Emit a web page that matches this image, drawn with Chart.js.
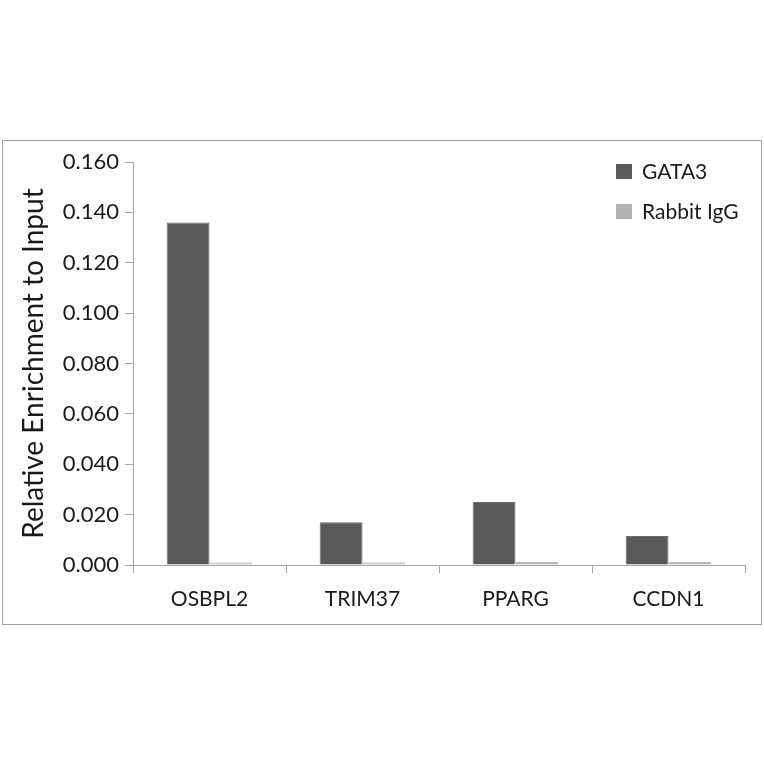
<!DOCTYPE html>
<html>
<head>
<meta charset="utf-8">
<script src="https://cdn.jsdelivr.net/npm/chart.js@4"></script>
<style>
  body { margin: 0; background: #fff; }
  #frame { position: absolute; left: 2px; top: 140px; width: 758px; height: 483px; border: 1px solid #a0a0a0; }
</style>
</head>
<body>
<div id="frame"><canvas id="grafico" width="758" height="483"></canvas></div>
<script>
var categories = ['OSBPL2', 'TRIM37', 'PPARG', 'CCDN1'];
var gata3 = [0.136, 0.017, 0.025, 0.0115];
var rabbitIgG = [0.001, 0.001, 0.0012, 0.0012];
var seriesNames = ['GATA3', 'Rabbit IgG'];
var seriesColors = ['#595959', '#b2b2b2'];

var fontFamily = 'Lato, "Open Sans", sans-serif';

// legend drawn in the top right corner, over the plot area
var cornerLegend = {
  id: 'cornerLegend',
  afterDraw: function(chart) {
    var ctx = chart.ctx;
    ctx.save();
    ctx.font = '21px ' + fontFamily;
    ctx.textBaseline = 'middle';
    chart.data.datasets.forEach(function(ds, i) {
      var y = 30 + i * 40;
      ctx.fillStyle = ds.backgroundColor;
      ctx.fillRect(613, y - 7, 16, 15);
      ctx.fillStyle = '#1a1a1a';
      ctx.fillText(ds.label, 639, y + 1);
    });
    ctx.restore();
  }
};

var ctx = document.getElementById('grafico').getContext('2d');
var chart = new Chart(ctx, {
  type: 'bar',
  data: {
    labels: categories,
    datasets: [
      { label: seriesNames[0], data: gata3, backgroundColor: seriesColors[0], borderColor: '#6a6a6a', borderWidth: 1 },
      { label: seriesNames[1], data: rabbitIgG, backgroundColor: seriesColors[1], borderColor: '#b8b8b8', borderWidth: 1 }
    ]
  },
  options: {
    responsive: false,
    animation: false,
    layout: { padding: { top: 21, right: 16, left: 0, bottom: 0 } },
    plugins: { legend: { display: false }, tooltip: { enabled: false } },
    datasets: { bar: { categoryPercentage: 0.56, barPercentage: 1 } },
    scales: {
      x: {
        grid: { display: true, offset: true, drawOnChartArea: false, drawTicks: true, tickLength: 8, color: '#a6a6a6' },
        border: { color: '#a6a6a6' },
        ticks: { color: '#1a1a1a', font: { family: fontFamily, size: 21 }, padding: 14 },
        afterFit: function(scale) { scale.height = 59; }
      },
      y: {
        min: 0,
        max: 0.16,
        grid: { display: true, drawOnChartArea: false, drawTicks: true, tickLength: 8, color: '#a6a6a6' },
        border: { color: '#a6a6a6' },
        ticks: {
          stepSize: 0.02,
          color: '#1a1a1a',
          font: { family: fontFamily, size: 22 },
          padding: 6,
          callback: function(v) { return v.toFixed(3); }
        },
        title: {
          display: true,
          text: 'Relative Enrichment to Input',
          color: '#1a1a1a',
          font: { family: fontFamily, size: 28 },
          padding: { top: 14, bottom: 0 }
        },
        afterFit: function(scale) { scale.width = 130; }
      }
    }
  },
  plugins: [cornerLegend]
});
</script>
</body>
</html>
